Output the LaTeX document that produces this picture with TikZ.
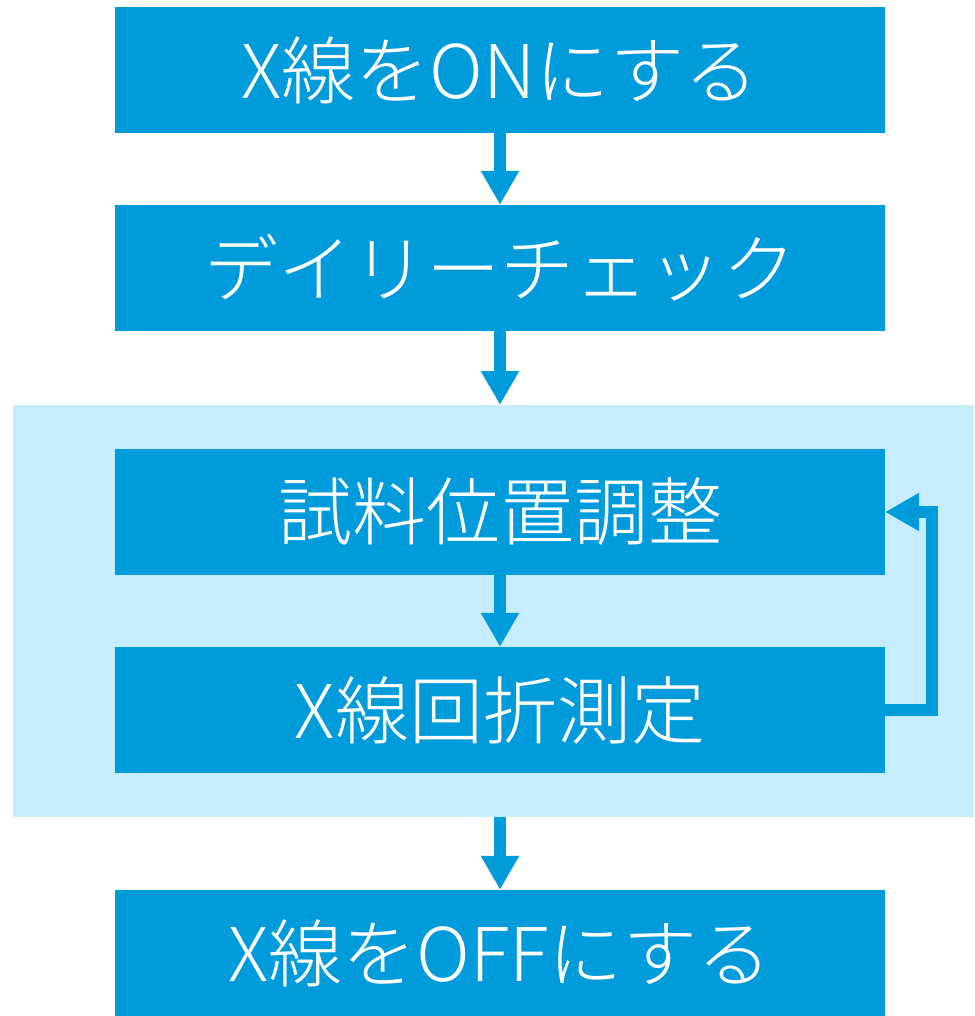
\documentclass[tikz,border=0pt]{standalone}
\usepackage{fontspec}
\newfontfamily\jpfont{Noto Sans CJK JP Light}
\usetikzlibrary{arrows.meta}
\definecolor{boxblue}{RGB}{0,155,219}
\definecolor{lightblue}{RGB}{197,237,253}
\begin{document}
\begin{tikzpicture}[x=1pt,y=-1pt,
  stepbox/.style={fill=boxblue, minimum width=770pt, minimum height=126pt, inner sep=0pt,
    text=white, font=\jpfont\fontsize{74pt}{78pt}\selectfont},
  flow/.style={draw=boxblue, line width=12pt, -{Triangle[width=36pt,length=34pt]}, line join=miter}]
\useasboundingbox (0,0) rectangle (974,1016);
\fill[lightblue] (13,405) rectangle (974,817);
\node[stepbox] (b1) at (500,70) {X線をONにする};
\node[stepbox] (b2) at (500,268) {デイリーチェック};
\node[stepbox] (b3) at (500,512) {試料位置調整};
\node[stepbox] (b4) at (500,710) {X線回折測定};
\node[stepbox] (b5) at (500,953) {X線をOFFにする};
\coordinate (g) at (13,405);
\coordinate (gb) at (13,817);
\draw[flow] (b1.south) -- (b2.north);
\draw[flow] (b2.south) -- (b2.south |- g);
\draw[flow] (b3.south) -- (b4.north);
\draw[flow] (b4.south |- gb) -- (b5.north);
\coordinate (r3) at (932,512);
\draw[flow] (b4.east) -| (r3) -- (b3.east);
\end{tikzpicture}
\end{document}
